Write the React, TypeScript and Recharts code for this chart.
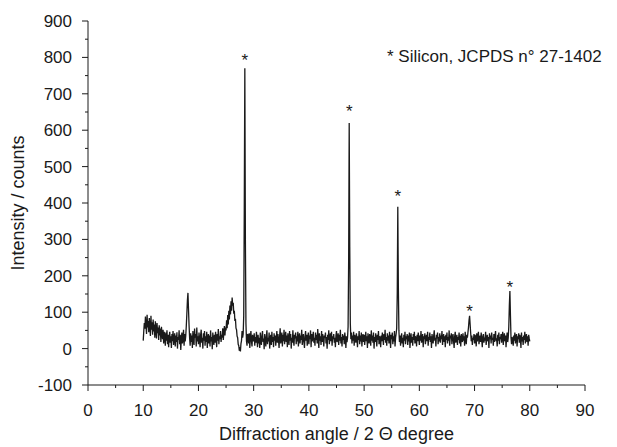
import { ComposedChart, Line, Scatter, XAxis, YAxis } from "recharts";

// XRD pattern, counts every 0.1° starting at 10.0°
const START_ANGLE = 10;
const STEP = 0.1;

const counts10s = [
  22, 48, 70, 55, 88, 62, 40, 93, 58, 76,
  45, 84, 60, 35, 90, 52, 72, 38, 80, 47,
  66, 30, 75, 50, 28, 70, 42, 58, 24, 64,
  36, 55, 18, 60, 40, 26, 52, 14, 46, 32,
  8, 44, 22, 50, 12, 38, 4, 30, 46, 16,
  34, 2, 40, 20, 48, 10, 28, 42, 6, 36,
  18, 45, 0, 32, 24, 50, 12, 38, -4, 26,
  44, 14, 30, 52, 8, 40, 20, 35, 62, 95,
  132, 153, 108, 64, 30, 8, 42, 18, 36, 2,
  48, 24, 10, 55, 30, 40, 6, 58, 20, 34,
];
const counts20s = [
  12, 44, 26, 4, 38, 52, 16, 30, 0, 42,
  22, 48, 8, 34, 18, 46, 2, 28, 40, 14,
  36, 6, 50, 20, 32, -2, 44, 24, 10, 38,
  16, 46, 28, 4, 40, 22, 54, 12, 34, 26,
  48, 18, 38, 30, 56, 24, 44, 62, 36, 58,
  50, 78, 56, 92, 66, 104, 80, 118, 94, 130,
  104, 140, 118, 126, 96, 104, 76, 82, 56, 52,
  34, 30, 12, 8, -6, 4, -8, 14, 22, 48,
  30, 40, 90, 380, 770, 300, 70, 20, 8, 40,
  36, 14, 42, 2, 30, 48, 20, 6, 38, 26,
];
const counts30s = [
  20, 42, 8, 32, 16, 46, 26, 4, 38, 14,
  30, 2, 44, 22, 10, 36, 48, 18, 28, -2,
  40, 24, 6, 34, 50, 12, 30, 20, 44, 0,
  26, 38, 10, 46, 18, 32, 4, 42, 22, 36,
  8, 30, 48, 16, 40, 24, 2, 34, 56, 14,
  28, 44, 6, 38, 20, 52, 12, 32, 46, 18,
  36, 4, 42, 26, 10, 48, 22, 40, 0, 30,
  16, 50, 24, 8, 38, 28, 44, 12, 34, 20,
  46, 6, 30, 42, 14, 36, 24, 52, 10, 28,
  40, 18, 2, 34, 48, 22, 38, 8, 30, 44,
];
const counts40s = [
  12, 36, 26, 50, 4, 40, 20, 32, 46, 16,
  30, 8, 44, 24, 38, 14, 54, 28, 2, 42,
  22, 34, 10, 48, 18, 40, 26, 6, 36, 30,
  44, 14, 32, 0, 38, 24, 50, 12, 28, 42,
  20, 46, 8, 34, 26, 40, 16, 30, 4, 36,
  48, 18, 28, 42, 10, 38, 22, 52, 14, 32,
  6, 40, 24, 36, 12, 44, 28, 2, 34, 18,
  30, 60, 240, 620, 280, 70, 26, 44, 14, 36,
  22, 46, 8, 38, 28, 16, 42, 30, 4, 34,
  24, 48, 12, 36, 20, 44, 6, 32, 40, 18,
];
const counts50s = [
  38, 10, 28, 46, 20, 34, 2, 42, 26, 14,
  40, 30, 8, 50, 22, 36, 16, 44, 0, 32,
  18, 42, 26, 6, 38, 24, 48, 12, 34, 28,
  4, 36, 20, 44, 30, 10, 40, 24, 52, 16,
  32, 8, 42, 22, 36, 14, 46, 28, 2, 38,
  26, 44, 12, 34, 20, 48, 6, 30, 40, 56,
  150, 390, 170, 50, 18, 36, 8, 28, 42, 14,
  30, 4, 38, 22, 46, 12, 34, 26, 40, 10,
  36, 20, 44, 2, 28, 42, 16, 32, 8, 40,
  24, 46, 14, 34, 28, 6, 38, 20, 44, 30,
];
const counts60s = [
  10, 36, 22, 48, 16, 30, 40, 4, 34, 26,
  42, 12, 28, 38, 20, 46, 8, 32, 24, 44,
  18, 34, 2, 40, 26, 14, 36, 50, 22, 30,
  6, 38, 28, 44, 12, 32, 20, 42, 16, 36,
  26, 48, 10, 30, 40, 18, 34, 4, 38, 24,
  44, 14, 32, 22, 50, 8, 36, 28, 42, 12,
  30, 40, 20, 2, 34, 46, 16, 26, 38, 10,
  32, 24, 44, 14, 36, 6, 40, 28, 18, 42,
  22, 34, 8, 46, 26, 12, 38, 30, 44, 58,
  78, 90, 66, 42, 20, 36, 10, 30, 24, 40,
];
const counts70s = [
  14, 38, 28, 6, 42, 20, 32, 46, 12, 26,
  36, 18, 44, 24, 4, 34, 40, 16, 30, 22,
  46, 10, 28, 38, 20, 32, 2, 42, 26, 36,
  14, 44, 24, 30, 8, 40, 18, 34, 48, 20,
  28, 6, 38, 22, 44, 12, 32, 26, 40, 16,
  34, 46, 10, 30, 42, 20, 36, 4, 28, 44,
  18, 30, 60, 118, 158, 90, 30, 12, 32, 24,
  8, 36, 22, 44, 14, 30, 40, 6, 34, 26,
  42, 16, 38, 28, 2, 44, 20, 32, 10, 36,
  24, 46, 14, 30, 40, 18, 34, 8, 38, 28,
  20,
];

const counts = [
  ...counts10s,
  ...counts20s,
  ...counts30s,
  ...counts40s,
  ...counts50s,
  ...counts60s,
  ...counts70s,
];

const pattern = counts.map((c, i) => ({
  angle: Math.round((START_ANGLE + i * STEP) * 10) / 10,
  counts: c,
}));

// silicon reflections, asterisk heights
const siliconAngles = [28.4, 47.3, 56.1, 69.1, 76.4];
const starCounts = [803, 663, 430, 114, 180];
const stars = siliconAngles.map((a, i) => ({ angle: a, counts: starCounts[i] }));

const xTicks = [0, 5, 10, 15, 20, 25, 30, 35, 40, 45, 50, 55, 60, 65, 70, 75, 80, 85, 90];
const yTicks = [
  -100, -50, 0, 50, 100, 150, 200, 250, 300, 350, 400, 450, 500, 550, 600, 650, 700,
  750, 800, 850, 900,
];

const FONT = "'Liberation Sans', Arial, Helvetica, sans-serif";
const INK = "#1a1a1a";

const XTick = (props: any) => {
  const { x, y, payload } = props;
  const major = payload.value % 10 === 0;
  return (
    <g>
      <line x1={x} x2={x} y1={y} y2={y + (major ? 6 : 3)} stroke={INK} />
      {major && (
        <text x={x} y={y + 31} textAnchor="middle" fontSize={17} fill={INK} fontFamily={FONT}>
          {payload.value}
        </text>
      )}
    </g>
  );
};

const YTick = (props: any) => {
  const { x, y, payload } = props;
  const major = payload.value % 100 === 0;
  return (
    <g>
      <line x1={x} x2={x - (major ? 6 : 3)} y1={y} y2={y} stroke={INK} />
      {major && (
        <text x={x - 16} y={y + 6} textAnchor="end" fontSize={17} fill={INK} fontFamily={FONT}>
          {payload.value}
        </text>
      )}
    </g>
  );
};

const Star = (props: any) => (
  <text x={props.cx} y={props.cy + 10} textAnchor="middle" fontSize={17} fill={INK} fontFamily={FONT}>
    *
  </text>
);

export default function App() {
  return (
    <div style={{ position: "absolute", left: 0, top: 0, width: 617, height: 447, background: "#fff" }}>
      <ComposedChart
        width={617}
        height={447}
        data={pattern}
        margin={{ top: 21, right: 32, bottom: 0, left: 0 }}
        style={{ fontFamily: FONT }}
      >
        <XAxis
          type="number"
          dataKey="angle"
          domain={[0, 90]}
          ticks={xTicks}
          interval={0}
          height={62}
          tickSize={0}
          tickMargin={0}
          tick={<XTick />}
          axisLine={{ stroke: INK }}
          tickLine={false}
          label={{
            value: "Diffraction angle / 2 Θ degree",
            position: "insideBottom",
            offset: 7,
            fontSize: 18,
            fill: INK,
          }}
        />
        <YAxis
          type="number"
          domain={[-100, 900]}
          ticks={yTicks}
          interval={0}
          width={88}
          tickSize={0}
          tickMargin={0}
          tick={<YTick />}
          axisLine={{ stroke: INK }}
          tickLine={false}
          label={{
            value: "Intensity / counts",
            angle: -90,
            position: "insideLeft",
            offset: 18,
            fontSize: 18,
            fill: INK,
            style: { textAnchor: "middle" },
          }}
        />
        <Line
          type="linear"
          dataKey="counts"
          stroke={INK}
          strokeWidth={1.3}
          dot={false}
          isAnimationActive={false}
        />
        <Scatter data={stars} dataKey="counts" shape={<Star />} isAnimationActive={false} />
      </ComposedChart>
      <div
        style={{
          position: "absolute",
          left: 387,
          top: 47,
          fontFamily: FONT,
          fontSize: 17,
          color: INK,
          whiteSpace: "nowrap",
        }}
      >
        * Silicon, JCPDS n° 27-1402
      </div>
    </div>
  );
}
